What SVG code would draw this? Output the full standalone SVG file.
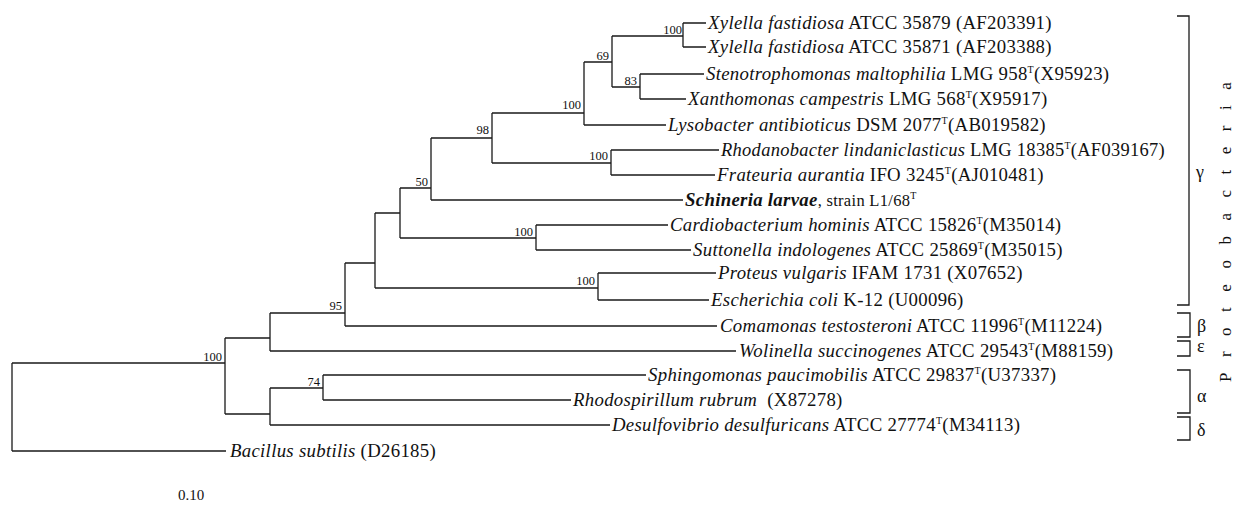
<svg xmlns="http://www.w3.org/2000/svg" width="1237" height="522" viewBox="0 0 1237 522">
<style>
  .edge { fill: none; stroke: #1a1a1a; stroke-width: 1.3; }
  .br { fill: none; stroke: #1a1a1a; stroke-width: 1.3; }
  .tx { font-family: "Liberation Serif", "Times New Roman", serif; font-size: 18.8px; letter-spacing: 0.3px; fill: #111; }
  .it { font-style: italic; }
  .bd { font-weight: bold; }
  .sup { font-size: 10px; }
  .sm { font-size: 16.5px; }
  .bs { font-family: "Liberation Serif", "Times New Roman", serif; font-size: 12.5px; fill: #111; text-anchor: end; }
  .gr { font-family: "Liberation Serif", "Times New Roman", serif; font-size: 18px; fill: #111; }
  .phy { font-family: "Liberation Serif", "Times New Roman", serif; font-size: 17px; letter-spacing: 15.5px; fill: #111; }
  .sc { font-family: "Liberation Serif", "Times New Roman", serif; font-size: 15px; fill: #111; }
</style>

<!-- branches -->
<g id="connectors">
  <path class="edge" d="M12,363 V451 M12,363 H225 M12,451 H226"/>
  <path class="edge" d="M225,338 V414 M225,338 H270 M225,414 H270"/>
  <path class="edge" d="M270,313 V351 M270,313 H345 M270,351 H736"/>
  <path class="edge" d="M345,263 V326 M345,263 H375 M345,326 H717"/>
  <path class="edge" d="M375,213 V288 M375,213 H400 M375,288 H598"/>
  <path class="edge" d="M400,188 V238 M400,188 H431 M400,238 H536"/>
  <path class="edge" d="M431,138 V200 M431,138 H492 M431,200 H683"/>
  <path class="edge" d="M492,113 V163 M492,113 H584 M492,163 H611"/>
  <path class="edge" d="M584,62 V125 M584,62 H612 M584,125 H666"/>
  <path class="edge" d="M612,36 V87 M612,36 H683 M612,87 H640"/>
  <path class="edge" d="M683,23 V47 M683,23 H706 M683,47 H706"/>
  <path class="edge" d="M640,74 V99 M640,74 H704 M640,99 H686"/>
  <path class="edge" d="M611,150 V175 M611,150 H719 M611,175 H715"/>
  <path class="edge" d="M536,225 V250 M536,225 H668 M536,250 H691"/>
  <path class="edge" d="M598,273 V300 M598,273 H716 M598,300 H709"/>
  <path class="edge" d="M270,388 V425 M270,388 H323 M270,425 H610"/>
  <path class="edge" d="M323,375 V400 M323,375 H646 M323,400 H571"/>
</g>

<!-- bootstrap values -->
<g id="bootstrap">
  <text class="bs" x="682" y="34">100</text>
  <text class="bs" x="609" y="60">69</text>
  <text class="bs" x="637" y="85">83</text>
  <text class="bs" x="581" y="109">100</text>
  <text class="bs" x="489" y="134">98</text>
  <text class="bs" x="608" y="160">100</text>
  <text class="bs" x="428" y="186">50</text>
  <text class="bs" x="533" y="236">100</text>
  <text class="bs" x="595" y="285">100</text>
  <text class="bs" x="342" y="310">95</text>
  <text class="bs" x="222" y="361">100</text>
  <text class="bs" x="320" y="386">74</text>
</g>

<!-- taxa -->
<g id="xylella-35879"><text class="tx" x="708" y="29"><tspan class="it">Xylella fastidiosa</tspan> ATCC 35879 (AF203391)</text></g>
<g id="xylella-35871"><text class="tx" x="708" y="53"><tspan class="it">Xylella fastidiosa</tspan> ATCC 35871 (AF203388)</text></g>
<g id="stenotrophomonas"><text class="tx" x="706" y="80"><tspan class="it">Stenotrophomonas maltophilia</tspan> LMG 958<tspan class="sup" dy="-7">T</tspan><tspan dy="7">(X95923)</tspan></text></g>
<g id="xanthomonas"><text class="tx" x="688" y="105"><tspan class="it">Xanthomonas campestris</tspan> LMG 568<tspan class="sup" dy="-7">T</tspan><tspan dy="7">(X95917)</tspan></text></g>
<g id="lysobacter"><text class="tx" x="668" y="131"><tspan class="it">Lysobacter antibioticus</tspan> DSM 2077<tspan class="sup" dy="-7">T</tspan><tspan dy="7">(AB019582)</tspan></text></g>
<g id="rhodanobacter"><text class="tx" x="721" y="156" textLength="444" lengthAdjust="spacingAndGlyphs"><tspan class="it">Rhodanobacter lindaniclasticus</tspan> LMG 18385<tspan class="sup" dy="-7">T</tspan><tspan dy="7">(AF039167)</tspan></text></g>
<g id="frateuria"><text class="tx" x="717" y="181"><tspan class="it">Frateuria aurantia</tspan> IFO 3245<tspan class="sup" dy="-7">T</tspan><tspan dy="7">(AJ010481)</tspan></text></g>
<g id="schineria"><text class="tx" x="685" y="206"><tspan class="it bd">Schineria larvae</tspan><tspan class="sm">, strain L1/68</tspan><tspan class="sup" dy="-7">T</tspan></text></g>
<g id="cardiobacterium"><text class="tx" x="670" y="231"><tspan class="it">Cardiobacterium hominis</tspan> ATCC 15826<tspan class="sup" dy="-7">T</tspan><tspan dy="7">(M35014)</tspan></text></g>
<g id="suttonella"><text class="tx" x="693" y="256"><tspan class="it">Suttonella indologenes</tspan> ATCC 25869<tspan class="sup" dy="-7">T</tspan><tspan dy="7">(M35015)</tspan></text></g>
<g id="proteus"><text class="tx" x="718" y="279"><tspan class="it">Proteus vulgaris</tspan> IFAM 1731 (X07652)</text></g>
<g id="escherichia"><text class="tx" x="711" y="306"><tspan class="it">Escherichia coli</tspan> K-12 (U00096)</text></g>
<g id="comamonas"><text class="tx" x="720" y="332"><tspan class="it">Comamonas testosteroni</tspan> ATCC 11996<tspan class="sup" dy="-7">T</tspan><tspan dy="7">(M11224)</tspan></text></g>
<g id="wolinella"><text class="tx" x="739" y="357"><tspan class="it">Wolinella succinogenes</tspan> ATCC 29543<tspan class="sup" dy="-7">T</tspan><tspan dy="7">(M88159)</tspan></text></g>
<g id="sphingomonas"><text class="tx" x="648" y="381"><tspan class="it">Sphingomonas paucimobilis</tspan> ATCC 29837<tspan class="sup" dy="-7">T</tspan><tspan dy="7">(U37337)</tspan></text></g>
<g id="rhodospirillum"><text class="tx" x="573" y="406" xml:space="preserve"><tspan class="it">Rhodospirillum rubrum</tspan>  (X87278)</text></g>
<g id="desulfovibrio"><text class="tx" x="612" y="431"><tspan class="it">Desulfovibrio desulfuricans</tspan> ATCC 27774<tspan class="sup" dy="-7">T</tspan><tspan dy="7">(M34113)</tspan></text></g>
<g id="bacillus"><text class="tx" x="230" y="457"><tspan class="it">Bacillus subtilis</tspan> (D26185)</text></g>

<!-- class brackets -->
<g id="gamma"><path class="br" d="M1177,16 H1189 V305 H1177"/><text class="gr" x="1196" y="178">γ</text></g>
<g id="beta"><path class="br" d="M1177,313 H1190 V337 H1177"/><text class="gr" x="1197" y="332">β</text></g>
<g id="epsilon"><path class="br" d="M1177,341 H1190 V356 H1177"/><text class="gr" x="1197" y="352">ε</text></g>
<g id="alpha"><path class="br" d="M1177,370 H1190 V413 H1177"/><text class="gr" x="1197" y="402">α</text></g>
<g id="delta"><path class="br" d="M1177,417 H1190 V440 H1177"/><text class="gr" x="1197" y="436">δ</text></g>
<g id="proteobacteria"><text class="phy" transform="translate(1231,382) rotate(-90)" x="0" y="0">Proteobacteria</text></g>

<!-- scale -->
<g id="scale"><text class="sc" x="178" y="500">0.10</text></g>
</svg>
